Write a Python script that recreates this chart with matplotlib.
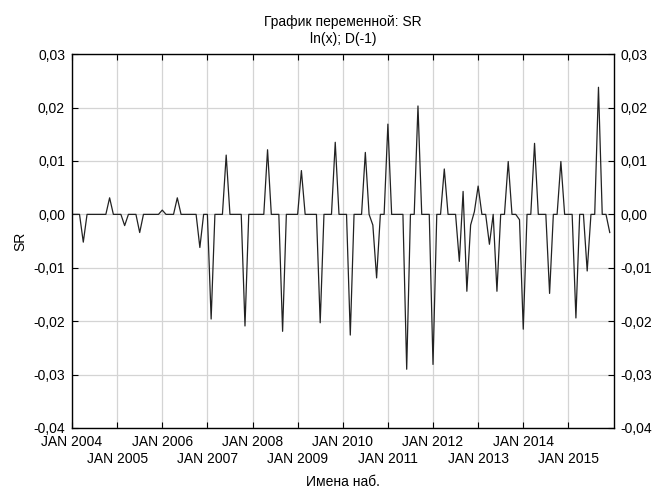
import numpy as np
import matplotlib
matplotlib.use("Agg")
import matplotlib.pyplot as plt
from matplotlib.ticker import FuncFormatter, MultipleLocator

# monthly values, JAN 2004 .. DEC 2015 (12 per row)
sr = [
    0, 0, 0, -0.0052, 0, 0, 0, 0, 0, 0, 0.0031, 0,
    0, 0, -0.0021, 0, 0, 0, -0.0034, 0, 0, 0, 0, 0,
    0.0008, 0, 0, 0, 0.0031, 0, 0, 0, 0, 0, -0.0062, 0,
    0, -0.0196, 0, 0, 0, 0.0111, 0, 0, 0, 0, -0.0209, 0,
    0, 0, 0, 0, 0.0121, 0, 0, 0, -0.0219, 0, 0, 0,
    0, 0.0082, 0, 0, 0, 0, -0.0203, 0, 0, 0, 0.0135, 0,
    0, 0, -0.0226, 0, 0, 0, 0.0116, 0, -0.002, -0.0119, 0, 0,
    0.0169, 0, 0, 0, 0, -0.029, 0, 0, 0.0203, 0, 0, 0,
    -0.0281, 0, 0, 0.0085, 0, 0, 0, -0.0088, 0.0043, -0.0144, -0.002, 0.0005,
    0.0053, 0, 0, -0.0056, 0, -0.0144, 0, 0, 0.0099, 0, 0, -0.001,
    -0.0215, 0, 0, 0.0133, 0, 0, 0, -0.0148, 0, 0, 0.0099, 0,
    0, 0, -0.0194, 0, 0, -0.0106, 0, 0, 0.0238, 0, 0, -0.0034,
]
years = list(range(2004, 2016))
year_labels = [f"JAN {y}" for y in years]

plt.rcParams["font.family"] = ["Liberation Sans", "DejaVu Sans"]
plt.rcParams["font.size"] = 10

fig = plt.figure(figsize=(6.54, 4.88), dpi=100)
ax = fig.add_axes([0.1101, 0.123, 0.828, 0.766])

x = np.arange(len(sr))
ax.plot(x, sr, color="#222222", linewidth=0.9)

ax.set_xlim(0, len(sr))
ax.set_ylim(-0.04, 0.03)

# even years on the first row, odd years on the second row
ax.set_xticks([12 * i for i in range(0, len(years), 2)])
ax.set_xticklabels(year_labels[0::2])
ax.set_xticks([12 * i for i in range(1, len(years), 2)], minor=True)
ax.set_xticklabels(year_labels[1::2], minor=True)

ax.yaxis.set_major_locator(MultipleLocator(0.01))
ax.yaxis.set_major_formatter(FuncFormatter(lambda v, p: f"{v:.2f}".replace(".", ",").replace("-0,00", "0,00")))

ax.tick_params(axis="both", which="both", direction="in", length=4, width=0.8,
               top=True, right=True, labelright=True, pad=5)
ax.tick_params(axis="x", which="minor", pad=17.5)
ax.grid(True, which="both", color="#d4d4d4", linewidth=0.9)
ax.set_axisbelow(True)
for s in ax.spines.values():
    s.set_linewidth(1.0)
    s.set_color("black")

ax.set_ylabel("SR", labelpad=4)
ax.set_xlabel("Имена наб.", labelpad=6)
ax.set_title("График переменной: SR\nln(x); D(-1)", fontsize=10, pad=8, linespacing=1.3)

fig.savefig("out.png", dpi=100)
